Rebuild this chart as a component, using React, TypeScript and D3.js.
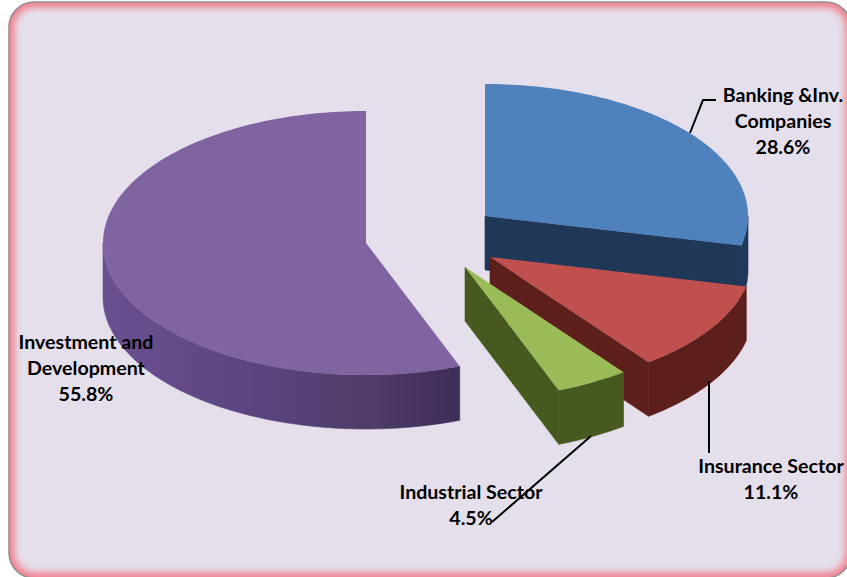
import * as d3 from "d3";

const WIDTH = 847;
const HEIGHT = 577;

const sectors = ["Banking &Inv. Companies", "Insurance Sector", "Industrial Sector", "Investment and Development"];
const shares = [28.6, 11.1, 4.5, 55.8];
const topColors = ["#4f81bd", "#c0504d", "#9bbb59", "#8064a2"];
const wallColors = ["#1f3857", "#5c1f1c", "#465a20", "#46345f"];
const apexX = [485, 490, 465, 366];
const apexY = [216, 257, 267, 243];

const labelLines = [
  ["Banking &Inv.", "Companies", "28.6%"],
  ["Insurance Sector", "11.1%"],
  ["Industrial Sector", "4.5%"],
  ["Investment and", "Development", "55.8%"],
];
const labelX = [783, 771, 471, 86];
const labelY = [102, 473, 499, 349];
const LINE_STEP = 26;

const leaders = [
  [[690, 133], [703, 100], [716, 100]],
  [[709, 381], [709, 453]],
  [[591, 436], [492, 522]],
];

const RX = 263;
const RY = 132;
const DEPTH = 54;

// same pie for all slices, squashed to fake the tilted 3D view
const slices = d3.pie<number>().sort(null)(shares);
const path2d = d3.line<[number, number]>();

function rim(i: number, a: number, drop = 0): [number, number] {
  return [apexX[i] + RX * Math.sin(a), apexY[i] + RY * -Math.cos(a) + drop];
}

function angles(from: number, to: number) {
  const n = Math.max(2, Math.ceil((to - from) / 0.02));
  return d3.range(n + 1).map((k) => from + ((to - from) * k) / n);
}

function topPath(i: number) {
  const s = slices[i];
  const pts = angles(s.startAngle, s.endAngle).map((a) => rim(i, a));
  return path2d([[apexX[i], apexY[i]], ...pts]) + "Z";
}

// front facing part of the rim, only the lower half of the ellipse shows
function outerWall(i: number) {
  const s = slices[i];
  const from = Math.max(s.startAngle, Math.PI / 2);
  const to = Math.min(s.endAngle, (3 * Math.PI) / 2);
  if (to <= from) return null;
  const a = angles(from, to);
  const upper = a.map((v) => rim(i, v));
  const lower = a.map((v) => rim(i, v, DEPTH)).reverse();
  return path2d([...upper, ...lower]) + "Z";
}

// the cut face at the slice's end angle, seen only on the right hand slices
function cutWall(i: number) {
  const a = slices[i].endAngle;
  if (a > Math.PI) return null;
  const [x, y] = rim(i, a);
  return (
    path2d([
      [apexX[i], apexY[i]],
      [x, y],
      [x, y + DEPTH],
      [apexX[i], apexY[i] + DEPTH],
    ]) + "Z"
  );
}

export default function App() {
  const frame = { x: 9, y: 2, width: 842, height: 576, rx: 25 };
  return (
    <svg
      width={WIDTH}
      height={HEIGHT}
      style={{ position: "absolute", left: 0, top: 0, background: "#fff" }}
      fontFamily="Lato, 'Open Sans', sans-serif"
    >
      <defs>
        <clipPath id="frame-clip">
          <rect {...frame} />
        </clipPath>
        <filter id="glow" x="-5%" y="-5%" width="110%" height="110%">
          <feGaussianBlur stdDeviation={3.5} />
        </filter>
        <linearGradient id="purple-wall" gradientUnits="userSpaceOnUse" x1={102} y1={0} x2={461} y2={0}>
          <stop offset="0" stopColor="#6b5090" />
          <stop offset="0.4" stopColor="#5c4580" />
          <stop offset="0.75" stopColor="#4f3c68" />
          <stop offset="1" stopColor="#3e2d55" />
        </linearGradient>
      </defs>

      <rect {...frame} fill="#e5dfeb" />
      <g clipPath="url(#frame-clip)">
        <rect {...frame} fill="none" stroke="#f27f8c" strokeWidth={11} filter="url(#glow)" />
      </g>
      <rect {...frame} fill="none" stroke="#8f8f8f" strokeWidth={1.5} />

      {/* back to front: blue, red, green, purple */}
      {slices.map((_, i) => {
        const outer = outerWall(i);
        const cut = cutWall(i);
        const wall = i === 3 ? "url(#purple-wall)" : wallColors[i];
        return (
          <g key={sectors[i]}>
            {cut && <path d={cut} fill={wall} stroke={wall} strokeWidth={0.6} />}
            {outer && <path d={outer} fill={wall} stroke={wall} strokeWidth={0.6} />}
            <path d={topPath(i)} fill={topColors[i]} />
          </g>
        );
      })}

      {leaders.map((pts, i) => (
        <path key={i} d={path2d(pts as [number, number][]) ?? ""} fill="none" stroke="#000" strokeWidth={2} />
      ))}

      {labelLines.map((lines, i) => (
        <text key={i} textAnchor="middle" fontWeight={700} fontSize={19.6} fill="#000">
          {lines.map((t, k) => (
            <tspan key={t} x={labelX[i]} y={labelY[i] + k * LINE_STEP}>
              {t}
            </tspan>
          ))}
        </text>
      ))}
    </svg>
  );
}
